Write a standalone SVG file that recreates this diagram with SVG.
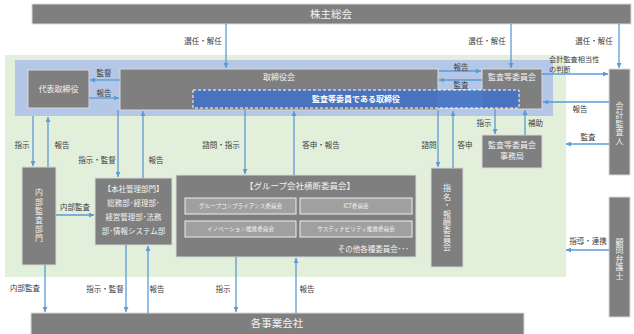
<svg xmlns="http://www.w3.org/2000/svg" width="634" height="334" viewBox="0 0 634 334">
<defs>
<style>
text{font-family:"Noto Sans CJK JP","Noto Sans",sans-serif;}
.box{fill:#7f7f7f;stroke:#d9d9d9;stroke-width:1;}
.sub{fill:#a0a0a0;stroke:#eeeeee;stroke-width:1;}
.bt{fill:#f2f2f2;font-size:8px;text-anchor:middle;}
.vt{fill:#f2f2f2;font-size:8px;text-anchor:middle;writing-mode:vertical-rl;}
.big{fill:#f2f2f2;font-size:10.5px;text-anchor:middle;}
.st{fill:#f2f2f2;font-size:5.6px;text-anchor:middle;}
.lb{fill:#404040;font-size:7.5px;text-anchor:middle;}
.ln{stroke:#5b9bd5;stroke-width:1.3;fill:none;marker-end:url(#ah);}
</style>
<marker id="ah" viewBox="0 0 10 10" refX="10" refY="5" markerWidth="5" markerHeight="5" markerUnits="userSpaceOnUse" orient="auto">
<path d="M0,0 L10,5 L0,10 z" fill="#5b9bd5"/>
</marker>
</defs>

<g id="backgrounds">
<rect x="5" y="55" width="561" height="222" fill="#e2efda"/>
<rect x="15" y="60" width="538" height="56" fill="#b4c7e7"/>
</g>

<g id="kabunushi">
<rect class="box" x="32" y="4" width="599" height="20"/>
<text class="big" x="331" y="18">株主総会</text>
</g>

<g id="daihyo">
<rect class="box" x="28" y="70" width="61" height="38"/>
<text class="bt" x="58.5" y="92">代表取締役</text>
</g>

<g id="torishimariyakukai">
<rect class="box" x="120" y="69" width="318" height="41"/>
<text class="bt" x="279" y="80">取締役会</text>
</g>

<g id="kansatoiinkai">
<rect class="box" x="482" y="69" width="60" height="40"/>
<text class="bt" x="512" y="80">監査等委員会</text>
</g>

<g id="kansatoiin-torishimariyaku">
<rect x="193" y="90" width="326" height="18" fill="#4472c4" fill-opacity="0.92" stroke="#ffffff" stroke-width="1" stroke-dasharray="3,2"/>
<text class="bt" x="356" y="101.5" style="font-weight:bold;fill:#ffffff">監査等委員である取締役</text>
</g>

<g id="jimukyoku">
<rect class="box" x="482" y="135" width="60" height="33"/>
<text class="bt" x="512" y="148">監査等委員会</text>
<text class="bt" x="512" y="159">事務局</text>
</g>

<g id="kaikei">
<rect class="box" x="609" y="69" width="21" height="106"/>
<text class="vt" x="619.5" y="124" style="letter-spacing:0.8px">会計監査人</text>
</g>

<g id="komon">
<rect class="box" x="609" y="197" width="21" height="120"/>
<text class="vt" x="619.5" y="259" style="letter-spacing:0.5px">顧問弁護士</text>
</g>

<g id="naibukansa">
<rect class="box" x="22" y="167" width="34" height="98"/>
<text class="vt" x="39" y="216" style="letter-spacing:1.2px">内部監査部門</text>
</g>

<g id="honsha">
<rect class="box" x="95" y="178" width="77" height="67"/>
<text class="bt" x="133.5" y="192" style="font-size:7.5px">【本社管理部門】</text>
<text class="bt" x="133.5" y="206" style="font-size:7.5px">総務部･経理部･</text>
<text class="bt" x="133.5" y="220" style="font-size:7.5px">経営管理部･法務</text>
<text class="bt" x="133.5" y="234" style="font-size:7.5px">部･情報システム部</text>
</g>

<g id="group">
<rect class="box" x="176" y="175" width="240" height="82"/>
<text class="bt" x="300" y="189" style="font-size:8.5px">【グループ会社横断委員会】</text>
<rect class="sub" x="185" y="198" width="111" height="16"/>
<text class="st" x="240.5" y="208">グループコンプライアンス委員会</text>
<rect class="sub" x="300" y="198" width="112" height="16"/>
<text class="st" x="356" y="208">ICT委員会</text>
<rect class="sub" x="185" y="221" width="111" height="16"/>
<text class="st" x="240.5" y="231">イノベーション推進委員会</text>
<rect class="sub" x="300" y="221" width="112" height="16"/>
<text class="st" x="356" y="231">サスティナビリティ推進委員会</text>
<text class="bt" x="409" y="252" style="font-size:7.5px;text-anchor:end">その他各種委員会･･･</text>
</g>

<g id="shimei">
<rect class="box" x="431" y="168" width="32" height="99"/>
<text class="vt" x="447" y="218" style="letter-spacing:0.4px">指名・報酬委員会</text>
</g>

<g id="jigyo">
<rect class="box" x="31" y="313" width="493" height="22"/>
<text class="big" x="277" y="327">各事業会社</text>
</g>

<g id="connectors">
<line class="ln" x1="226" y1="24" x2="226" y2="68"/>
<line class="ln" x1="511" y1="24" x2="511" y2="68"/>
<line class="ln" x1="619" y1="24" x2="619" y2="68"/>
<line class="ln" x1="120" y1="80" x2="90" y2="80"/>
<line class="ln" x1="89" y1="98" x2="119" y2="98"/>
<line class="ln" x1="439" y1="71" x2="481" y2="71"/>
<line class="ln" x1="482" y1="80" x2="439" y2="80"/>
<line class="ln" x1="542" y1="74" x2="608" y2="74"/>
<line class="ln" x1="609" y1="102" x2="543" y2="102"/>
<line class="ln" x1="609" y1="144" x2="566" y2="144"/>
<line class="ln" x1="495" y1="109" x2="495" y2="134"/>
<line class="ln" x1="525" y1="135" x2="525" y2="110"/>
<line class="ln" x1="438" y1="110" x2="438" y2="167"/>
<line class="ln" x1="453" y1="168" x2="453" y2="111"/>
<line class="ln" x1="245" y1="110" x2="245" y2="174"/>
<line class="ln" x1="294" y1="175" x2="294" y2="111"/>
<line class="ln" x1="33" y1="116" x2="33" y2="166"/>
<line class="ln" x1="48" y1="167" x2="48" y2="117"/>
<line class="ln" x1="118" y1="110" x2="118" y2="177"/>
<line class="ln" x1="143" y1="178" x2="143" y2="111"/>
<line class="ln" x1="56" y1="215" x2="94" y2="215"/>
<line class="ln" x1="45" y1="265" x2="45" y2="312"/>
<line class="ln" x1="126" y1="245" x2="126" y2="312"/>
<line class="ln" x1="148" y1="313" x2="148" y2="246"/>
<line class="ln" x1="236" y1="257" x2="236" y2="312"/>
<line class="ln" x1="296" y1="313" x2="296" y2="258"/>
<line class="ln" x1="609" y1="250" x2="566" y2="250"/>
</g>

<g id="labels">
<text class="lb" x="203" y="44">選任・解任</text>
<text class="lb" x="487" y="44">選任・解任</text>
<text class="lb" x="594" y="44">選任・解任</text>
<text class="lb" x="104" y="76">監督</text>
<text class="lb" x="104" y="95.5">報告</text>
<text class="lb" x="461" y="69.5">報告</text>
<text class="lb" x="461" y="88">監査</text>
<text class="lb" x="549" y="62" style="text-anchor:start;font-size:7.2px">会計監査相当性</text>
<text class="lb" x="549" y="72" style="text-anchor:start;font-size:7.2px">の判断</text>
<text class="lb" x="580" y="111.5">報告</text>
<text class="lb" x="588" y="139.5">監査</text>
<text class="lb" x="484" y="125.5">指示</text>
<text class="lb" x="535.5" y="125.5">補助</text>
<text class="lb" x="429" y="147.5">諮問</text>
<text class="lb" x="465" y="147.5">答申</text>
<text class="lb" x="221" y="147.5">諮問・指示</text>
<text class="lb" x="321" y="147.5">答申・報告</text>
<text class="lb" x="22" y="147.5">指示</text>
<text class="lb" x="62" y="147.5">報告</text>
<text class="lb" x="97" y="162.5">指示・監督</text>
<text class="lb" x="156" y="162.5">報告</text>
<text class="lb" x="75" y="210">内部監査</text>
<text class="lb" x="25" y="291">内部監査</text>
<text class="lb" x="105" y="291.5">指示・監督</text>
<text class="lb" x="157" y="291.5">報告</text>
<text class="lb" x="223" y="291.5">指示</text>
<text class="lb" x="307" y="291.5">報告</text>
<text class="lb" x="588" y="243.5">指導・連携</text>
</g>
</svg>
